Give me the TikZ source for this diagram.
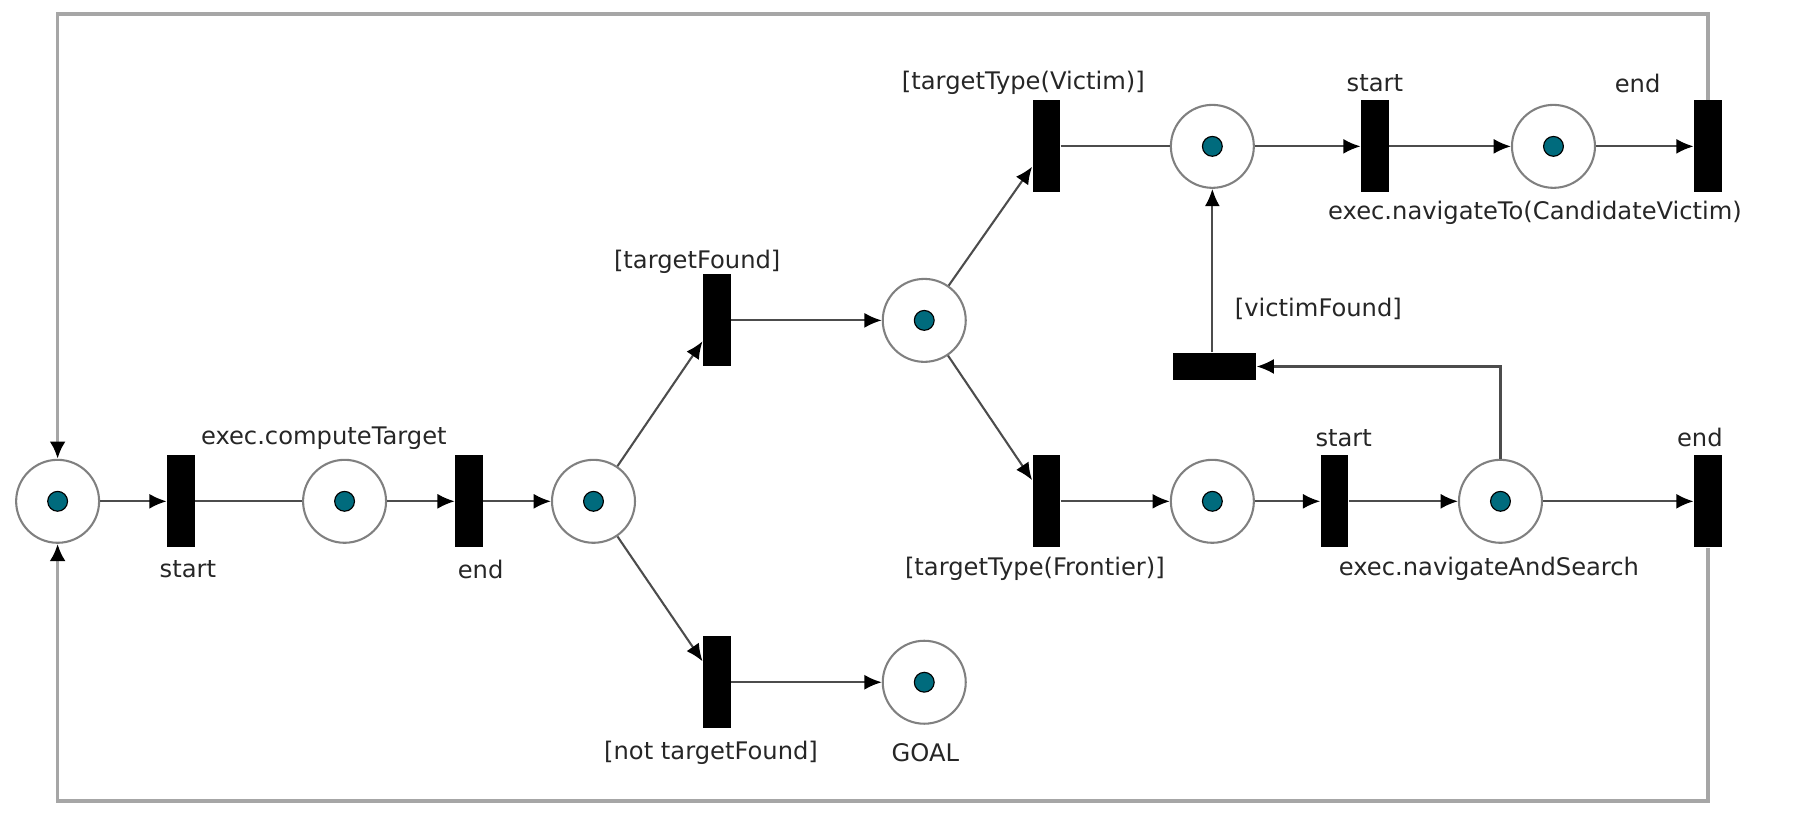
\documentclass[tikz,border=0pt]{standalone}
\usepackage{fontspec}
\setmainfont{DejaVu Sans}
\usetikzlibrary{arrows.meta}
\definecolor{tok}{HTML}{006B7D}
\begin{document}
\begin{tikzpicture}[x=0.5pt,y=-0.5pt,
  place/.style={circle,draw=black!50,line width=0.9pt,minimum size=36pt,inner sep=0pt,fill=white,
    path picture={\fill[tok,draw=black,line width=0.5pt] (path picture bounding box.center) circle (4.3pt);}},
  trans/.style={fill=black,draw=none,minimum width=12pt,minimum height=40pt,inner sep=0pt},
  htrans/.style={fill=black,draw=none,minimum width=36pt,minimum height=12pt,inner sep=0pt},
  arc/.style={draw=black!70,line width=0.9pt},
  arr/.style={arc,-{Latex[length=7.5pt,width=6.5pt,black]}},
  loopline/.style={draw=black!35,line width=1.6pt,-{Latex[length=7.5pt,width=7pt,black]}},
  lbl/.style={font=\fontsize{10.5}{12}\selectfont,inner sep=0pt,text=black!85}]
\useasboundingbox (0,0) rectangle (1568,707);
% places
\node[place] (P0) at (50,435) {};
\node[place] (P1) at (299,435) {};
\node[place] (P2) at (515,435) {};
\node[place] (P3) at (802,278) {};
\node[place] (PG) at (802,592) {};
\node[place] (PV) at (1052,127) {};
\node[place] (PF) at (1052,435) {};
\node[place] (PN) at (1348,127) {};
\node[place] (PS) at (1302,435) {};
% transitions
\node[trans] (T1) at (157,435) {};
\node[trans] (T2) at (407,435) {};
\node[trans] (T3) at (622,278) {};
\node[trans] (T4) at (622,592) {};
\node[trans] (T5) at (908,127) {};
\node[trans] (T6) at (908,435) {};
\node[trans] (T7) at (1193,127) {};
\node[trans] (T8) at (1482,127) {};
\node[trans] (T9) at (1158,435) {};
\node[trans] (T10) at (1482,435) {};
\node[htrans] (TV) at (1054,318) {};
% labels
\node[lbl] (l1) at (281,380) {exec.computeTarget};
\node[lbl] (l2) at (163,494) {start};
\node[lbl] (l3) at (417,494) {end};
\node[lbl] (l4) at (605,227) {[targetFound]};
\node[lbl] (l5) at (617,653) {[not targetFound]};
\node[lbl] (l6) at (803,653) {GOAL};
\node[lbl] (l7) at (888,72) {[targetType(Victim)]};
\node[lbl] (l8) at (898,494) {[targetType(Frontier)]};
\node[lbl] (l9) at (1193,72) {start};
\node[lbl] (l10) at (1421,72) {end};
\node[lbl] (l11) at (1332,185) {exec.navigateTo(CandidateVictim)};
\node[lbl] (l12) at (1144,268) {[victimFound]};
\node[lbl] (l13) at (1166,380) {start};
\node[lbl] (l14) at (1475,380) {end};
\node[lbl] (l15) at (1292,494) {exec.navigateAndSearch};
% arcs
\draw[arr] (P0) -- (T1);
\draw[arc] (T1) -- (P1);
\draw[arr] (P1) -- (T2);
\draw[arr] (T2) -- (P2);
\draw[arr] (P2) -- (T3);
\draw[arr] (P2) -- (T4);
\draw[arr] (T3) -- (P3);
\draw[arr] (T4) -- (PG);
\draw[arr] (P3) -- (T5);
\draw[arr] (P3) -- (T6);
\draw[arc] (T5) -- (PV);
\draw[arr] (T6) -- (PF);
\draw[arr] (PV) -- (T7);
\draw[arr] (T7) -- (PN);
\draw[arr] (PN) -- (T8);
\draw[arr] (PF) -- (T9);
\draw[arr] (T9) -- (PS);
\draw[arr] (PS) -- (T10);
\draw[arr] (PS.north) |- (TV.east);
\draw[arr] (TV.north -| PV.south) -- (PV.south);
% outer loops
\coordinate (c1) at (1482,12);
\coordinate (c2) at (50,12);
\coordinate (c3) at (1482,695);
\coordinate (c4) at (50,695);
\draw[loopline] (T8.north) -- (c1) -- (c2) -- (P0.north);
\draw[loopline] (T10.south) -- (c3) -- (c4) -- (P0.south);
\end{tikzpicture}
\end{document}
